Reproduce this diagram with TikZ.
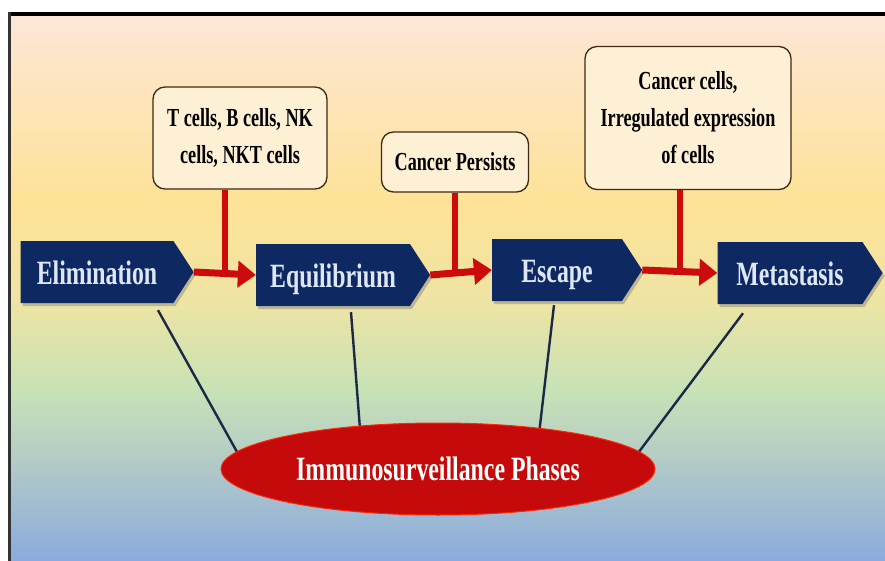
\documentclass[tikz,border=0pt]{standalone}
\usepackage{fontspec}
\setmainfont{Liberation Serif}[BoldFont={Liberation Serif Bold}, FakeStretch=0.7]
\usepackage{tikz}
\usetikzlibrary{shapes.geometric,shapes.symbols,arrows.meta,calc,shadows}

\definecolor{navy}{RGB}{14,40,98}
\definecolor{phasetext}{RGB}{222,231,245}
\definecolor{boxline}{RGB}{58,42,20}
\definecolor{boxfill}{RGB}{253,240,212}
\definecolor{redline}{RGB}{204,12,12}
\definecolor{ellred}{RGB}{196,10,10}
\definecolor{linkline}{RGB}{28,40,70}
\definecolor{bgA}{RGB}{253,230,214}
\definecolor{bgB}{RGB}{253,226,150}
\definecolor{bgC}{RGB}{240,228,162}
\definecolor{bgD}{RGB}{200,226,182}
\definecolor{bgE}{RGB}{176,200,200}
\definecolor{bgF}{RGB}{138,171,222}

\begin{document}
\begin{tikzpicture}[x=1pt, y=-1pt,
    phase/.style={signal, signal to=east, signal pointer angle=114, fill=navy,
        text=phasetext, minimum height=62pt, inner sep=0pt,
        text height=30pt, text depth=5pt,
        font=\fontsize{34}{36}\selectfont\bfseries,
        drop shadow={shadow xshift=2pt, shadow yshift=-3pt, opacity=0.45}},
    note/.style={draw=boxline, line width=1.3pt, rounded corners=12pt, fill=boxfill,
        align=center, inner sep=0pt, font=\fontsize{26}{37}\selectfont\bfseries},
    redarrow/.style={draw=redline, line width=7pt, -{Triangle[length=18pt,width=26pt]}},
    redstem/.style={draw=redline, line width=6pt},
    link/.style={draw=linkline, line width=2.4pt}]
    \useasboundingbox (0,0) rectangle (885,561);

    % background
    \shade[top color=bgA, bottom color=bgB] (11,16) rectangle (885,205);
    \shade[top color=bgB, bottom color=bgC] (11,204.5) rectangle (885,295);
    \shade[top color=bgC, bottom color=bgD] (11,294.5) rectangle (885,390);
    \shade[top color=bgD, bottom color=bgE] (11,389.5) rectangle (885,470);
    \shade[top color=bgE, bottom color=bgF] (11,469.5) rectangle (885,561);
    \fill[black] (8,12) rectangle (885,16);
    \fill[black!80] (8,12) rectangle (11,561);

    % phases
    \node[phase, minimum width=173pt] (elim) at (97,272) {Elimination};
    \node[phase, minimum width=174pt] (equi) at (333,275) {Equilibrium};
    \node[phase, minimum width=150pt] (esc) at (557,270) {Escape};
    \node[phase, minimum width=165pt] (meta) at (790,273) {Metastasis};

    \draw[redarrow] (elim.east) -- (equi.west);
    \draw[redarrow] (equi.east) -- (esc.west);
    \draw[redarrow] (esc.east) -- (meta.west);
    \coordinate (j1) at ($(elim.east)!0.5!(equi.west)$);
    \coordinate (j2) at ($(equi.east)!0.4!(esc.west)$);
    \coordinate (j3) at ($(esc.east)!0.5!(meta.west)$);

    % notes
    \node[note, minimum width=174pt, minimum height=102pt] (cells) at (240,138)
        {T cells, B cells, NK\\cells, NKT cells};
    \node[note, minimum width=147pt, minimum height=60pt] (persist) at (455,162)
        {Cancer Persists};
    \node[note, minimum width=206pt, minimum height=143pt] (irreg) at (688,118)
        {Cancer cells,\\Irregulated expression\\of cells};

    \draw[redstem] (cells.south -| j1) -- (j1);
    \draw[redstem] (persist.south -| j2) -- (j2);
    \draw[redstem] (irreg.south -| j3) -- (j3);

    % phases ellipse
    \node[ellipse, fill=ellred, draw=red!70!orange, line width=1pt,
        minimum width=434pt, minimum height=92pt, inner sep=0pt, text=white,
        font=\fontsize{34}{36}\selectfont\bfseries] (phases) at (438,469)
        {Immunosurveillance Phases};

    \foreach \p/\dx/\dy/\a in {elim/61/7/175, equi/18/6/151, esc/-3/4/22, meta/-47/9/5}
        \draw[link] ([shift={(\dx,\dy)}]\p.south) -- (phases.\a);
\end{tikzpicture}
\end{document}
